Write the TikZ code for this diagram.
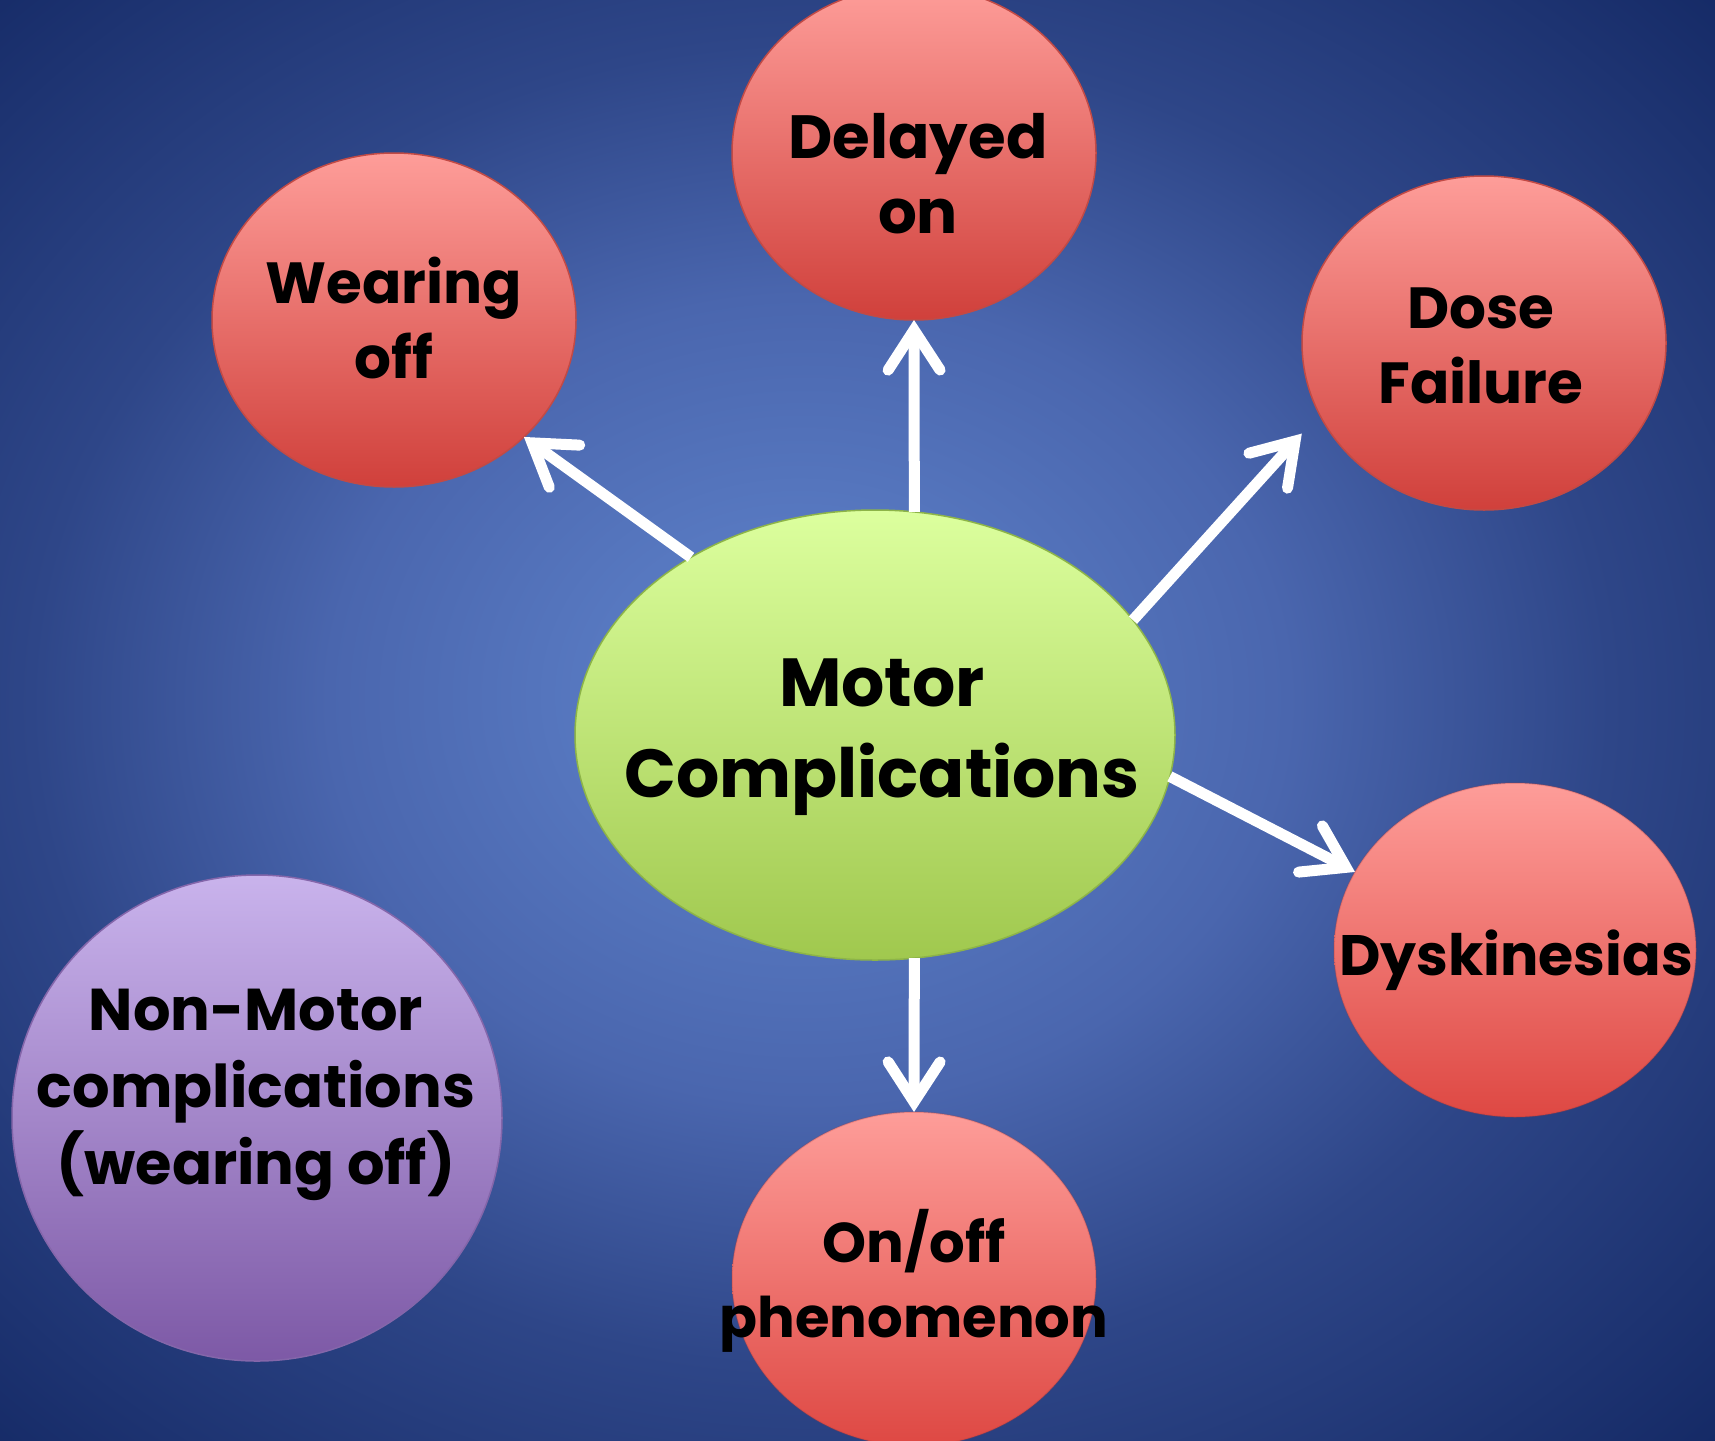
\documentclass[tikz,border=0pt]{standalone}
\usepackage{fontspec}
\setmainfont{Poppins}
\usetikzlibrary{shapes.geometric,arrows.meta,calc}
\definecolor{bgA}{HTML}{5778C0}
\definecolor{bgB}{HTML}{4A66AE}
\definecolor{bgC}{HTML}{2E4688}
\definecolor{bgD}{HTML}{152A66}
\definecolor{redT}{HTML}{FE9D99}
\definecolor{redB}{HTML}{D0403B}
\definecolor{redL}{HTML}{C24A45}
\definecolor{redB2}{HTML}{DE4843}
\definecolor{grnT}{HTML}{DCFF9E}
\definecolor{grnB}{HTML}{A0C84E}
\definecolor{grnL}{HTML}{8DB448}
\definecolor{purT}{HTML}{C9B3EC}
\definecolor{purB}{HTML}{7D59A6}
\definecolor{purL}{HTML}{8466AA}
\pgfdeclareradialshading{bgrad}{\pgfpoint{-2bp}{1bp}}{color(0bp)=(bgA); color(6bp)=(bgA); color(14bp)=(bgB); color(23bp)=(bgC); color(36bp)=(bgD); color(50bp)=(bgD)}
\tikzset{
  redbub/.style={ellipse, draw=redL, line width=1.5pt, top color=redT, bottom color=redB, inner sep=0pt, outer sep=0pt, minimum width=364pt, minimum height=334pt},
  redbubsoft/.style={ellipse, draw=redB2!80!black, draw opacity=0.25, line width=1.5pt, top color=redT, bottom color=redB2, inner sep=0pt, outer sep=0pt, minimum width=364pt, minimum height=334pt},
  grnbub/.style={ellipse, draw=grnL, line width=1.5pt, top color=grnT, bottom color=grnB, inner sep=0pt, outer sep=0pt, minimum width=600pt, minimum height=450pt},
  purbub/.style={ellipse, draw=purL, line width=1.5pt, top color=purT, bottom color=purB, inner sep=0pt, outer sep=0pt, minimum width=490pt, minimum height=486pt},
  txt/.style={font=\bfseries\fontsize{#1}{75}\selectfont, align=center, text=black, inner sep=0pt},
  txt/.default=60,
  bigtxt/.style={font=\bfseries\fontsize{68}{91}\selectfont, align=center, text=black, inner sep=0pt},
  purtxt/.style={font=\bfseries\fontsize{59}{77}\selectfont, align=center, text=black, inner sep=0pt},
  arr/.style={draw=white, line width=11pt, -{Straight Barb[length=40pt, width=52pt, line cap=round, line join=miter]}}
}
\begin{document}
\begin{tikzpicture}[x=1pt,y=1pt]
\useasboundingbox (0,0) rectangle (1715,-1440);
\shade[shading=bgrad] (0,0) rectangle (1715,-1440);

\node[redbub] (wearing) at (394,-320) {};
\node[redbub] (delayed) at (914,-153) {};
\node[redbub] (dose) at (1484,-343) {};
\node[redbubsoft, minimum width=362pt] (dysk) at (1515,-950) {};
\node[redbubsoft] (onoff) at (914,-1279) {};
\node[purbub] (nonmotor) at (257,-1118) {};
\node[grnbub] (motor) at (875,-735) {};

\node[txt=58] (twearing) at (394,-318) {Wearing\\off};
\node[txt=61] (tdelayed) at (918,-174) {Delayed\\on};
\node[txt=58] (tdose) at (1481,-346) {Dose\\Failure};
\node[txt=57] (tdysk) at (1516,-960) {Dyskinesias};
\node[txt=56] (tonoff) at (914,-1281) {On/off\\phenomenon};
\node[purtxt] (tnonmotor) at (256,-1095) {Non-Motor\\complications\\(wearing off)};
\node[bigtxt] (tmotor) at (882,-737) {Motor\\Complications};

\draw[arr] (motor.136.5) -- (wearing.-42.7);
\draw[arr] (motor.80.1) -- (delayed.-90);
\draw[arr] (motor.24.5) -- ([shift={(-13,-29)}]dose.200);
\draw[arr] (motor.-8.9) -- (dysk.154);
\draw[arr] (motor.-80.1) -- (onoff.90);
\end{tikzpicture}
\end{document}
